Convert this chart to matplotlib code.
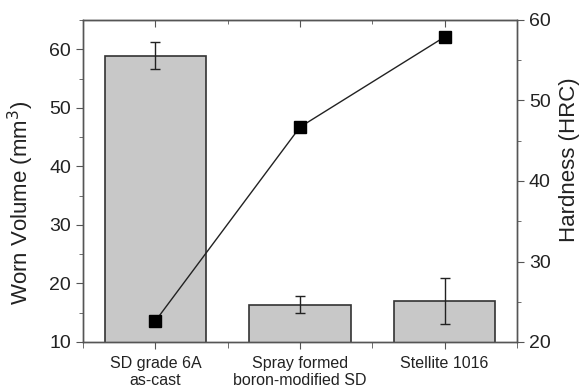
import numpy as np
import matplotlib
matplotlib.use("Agg")
import matplotlib.pyplot as plt
from matplotlib.ticker import MultipleLocator

plt.rcParams["font.family"] = ["Liberation Sans", "DejaVu Sans"]

# data
categories = ["SD grade 6A\nas-cast", "Spray formed\nboron-modified SD", "Stellite 1016"]
worn_volume = [58.9, 16.4, 17.0]
worn_err = [2.3, 1.5, 4.0]
hardness = [22.6, 46.7, 57.9]

axcol = "#555555"
txtcol = "#222222"
x = np.arange(len(categories))

fig = plt.figure(figsize=(5.8, 3.91), dpi=100)
ax = fig.add_axes([83 / 580, 1 - 342 / 391, (517 - 83) / 580, (342 - 20) / 391])

ax.bar(x, worn_volume, width=0.7, color="#c8c8c8", edgecolor="#333333", linewidth=1.2, zorder=2)
ax.errorbar(x, worn_volume, yerr=worn_err, fmt="none", ecolor=txtcol,
            elinewidth=1.0, capsize=3.5, capthick=1.0, zorder=3)

ax.set_xlim(-0.5, 2.5)
ax.set_ylim(10, 65)
ax.set_xticks(x)
ax.set_xticklabels(categories, fontsize=11.5, color=txtcol, linespacing=1.2)
ax.xaxis.set_minor_locator(MultipleLocator(0.5))
ax.yaxis.set_major_locator(MultipleLocator(10))
ax.yaxis.set_minor_locator(MultipleLocator(5))
ax.tick_params(axis="y", which="major", labelsize=14, length=5, color=axcol, labelcolor=txtcol)
ax.tick_params(axis="y", which="minor", length=3, color=axcol)
ax.tick_params(axis="x", which="major", length=5, color=axcol, pad=5)
ax.tick_params(axis="x", which="minor", length=4, color=axcol)
for s in ax.spines.values():
    s.set_color(axcol)
    s.set_linewidth(1.0)

# mirrored ticks on top, pointing in
top = ax.secondary_xaxis("top")
top.set_xticks(x)
top.xaxis.set_minor_locator(MultipleLocator(0.5))
top.tick_params(which="major", direction="in", length=5, color=axcol, labeltop=False)
top.tick_params(which="minor", direction="in", length=3, color=axcol)
top.spines["top"].set_color(axcol)

ax2 = ax.twinx()
ax2.plot(x, hardness, color=txtcol, linewidth=1.0, marker="s", markersize=8,
         markerfacecolor="black", markeredgecolor="black", zorder=4)
ax2.set_ylim(20, 60)
ax2.yaxis.set_major_locator(MultipleLocator(10))
ax2.yaxis.set_minor_locator(MultipleLocator(5))
ax2.tick_params(axis="y", which="major", labelsize=14, length=5, color=axcol, labelcolor=txtcol)
ax2.tick_params(axis="y", which="minor", length=3, color=axcol)
for s in ax2.spines.values():
    s.set_color(axcol)
    s.set_linewidth(1.0)

fig.text(21 / 580, 1 - 203 / 391, "Worn Volume (mm$^3$)", rotation=90, ha="center", va="center",
         fontsize=16, color=txtcol)
fig.text(569 / 580, 1 - 160 / 391, "Hardness (HRC)", rotation=90, ha="center", va="center",
         fontsize=16, color=txtcol)

fig.savefig("out.png", dpi=100)
